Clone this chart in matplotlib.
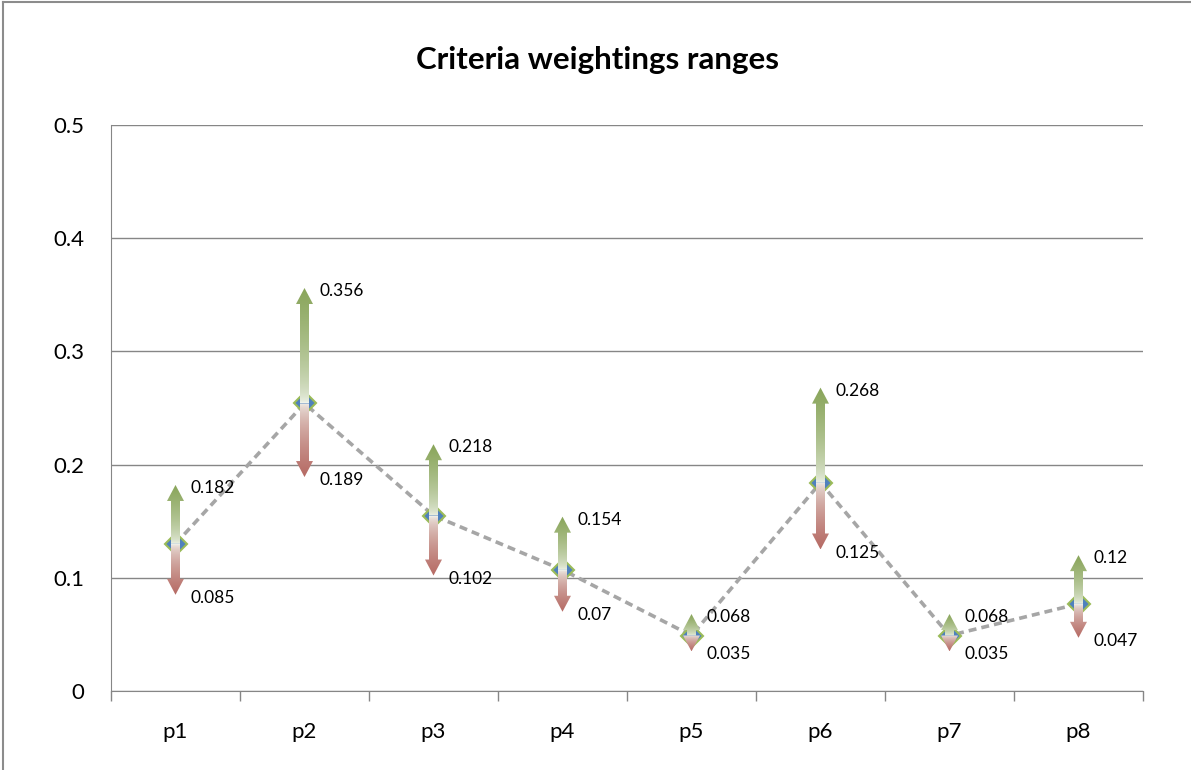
import numpy as np
import matplotlib
matplotlib.use("Agg")
import matplotlib.pyplot as plt
from matplotlib.patches import Polygon
from matplotlib.colors import to_rgb
from matplotlib.lines import Line2D

plt.rcParams['font.family'] = ['Lato', 'DejaVu Sans']

# weighting ranges per criterion
criteria = ["p1", "p2", "p3", "p4", "p5", "p6", "p7", "p8"]
w_mid = [0.130, 0.254, 0.155, 0.107, 0.049, 0.184, 0.049, 0.077]
w_max = [0.182, 0.356, 0.218, 0.154, 0.068, 0.268, 0.068, 0.12]
w_min = [0.085, 0.189, 0.102, 0.07, 0.035, 0.125, 0.035, 0.047]
y_ticks = [0, 0.1, 0.2, 0.3, 0.4, 0.5]

GRID = "#868686"
UP_COLOR = "#89a55a"
DOWN_COLOR = "#b66a64"
MID_COLOR = "#f2f5ee"

fig = plt.figure(figsize=(11.91, 7.70), dpi=100)
ax = fig.add_axes([111 / 1191, 1 - 691 / 770, 1032 / 1191, 566 / 770])

xs = np.arange(len(criteria))
ax.set_xlim(-0.5, len(criteria) - 0.5)
ax.set_ylim(0, 0.5)
ax.autoscale(False)

# pixel -> data scale factors
px_x = (ax.get_xlim()[1] - ax.get_xlim()[0]) / ax.bbox.width
px_y = (ax.get_ylim()[1] - ax.get_ylim()[0]) / ax.bbox.height


def gradient_arrow(x, y0, y1, color):
    """Arrow from y0 to y1 filled with a gradient fading to white at y0."""
    sign = 1 if y1 > y0 else -1
    shaft = 4.5 * px_x
    head = 8.5 * px_x
    head_len = min(16 * px_y, abs(y1 - y0))
    yb = y1 - sign * head_len
    verts = [(x - shaft, y0), (x - shaft, yb), (x - head, yb), (x, y1),
             (x + head, yb), (x + shaft, yb), (x + shaft, y0)]
    poly = Polygon(verts, closed=True, facecolor="none", edgecolor="none",
                   transform=ax.transData)
    ax.add_patch(poly)
    t = np.linspace(0, 1, 200) ** 0.55
    c0 = np.array(to_rgb(MID_COLOR))
    c1 = np.array(to_rgb(color))
    cols = c0[None, :] + (c1 - c0)[None, :] * t[:, None]
    img = cols[:, None, :]
    lo, hi = (y0, y1) if sign > 0 else (y1, y0)
    if sign < 0:
        img = img[::-1]
    im = ax.imshow(img[::-1], extent=[x - head, x + head, lo, hi],
                   aspect="auto", interpolation="bilinear", zorder=4)
    im.set_clip_path(poly)


# grid and axes styling
ax.set_yticks(y_ticks)
ax.set_yticklabels(["0", "0.1", "0.2", "0.3", "0.4", "0.5"])
ax.yaxis.grid(True, color=GRID, linewidth=1)
ax.set_axisbelow(True)
for side in ["top", "right"]:
    ax.spines[side].set_visible(False)
ax.spines["left"].set_color(GRID)
ax.spines["bottom"].set_color(GRID)
ax.tick_params(axis="y", length=0, pad=19, labelsize=16)
ax.set_xticks(xs)
ax.set_xticklabels(criteria)
ax.set_xticks(np.arange(-0.5, len(criteria)), minor=True)
ax.tick_params(axis="x", which="major", length=0, pad=22, labelsize=16)
ax.tick_params(axis="x", which="minor", length=7, color=GRID, width=1)

# midpoint line and markers
ax.plot(xs, w_mid, color="#a6a6a6", linewidth=2.6, linestyle=(0, (2.2, 1.4)),
        zorder=2)
ax.plot(xs, w_mid, linestyle="none", marker="D", markersize=11.5,
        markerfacecolor="#4f81bd", markeredgecolor="#9bbb59",
        markeredgewidth=1.5, zorder=3)

for x, m, hi, lo in zip(xs, w_mid, w_max, w_min):
    gradient_arrow(x, m, hi, UP_COLOR)
    gradient_arrow(x, m, lo, DOWN_COLOR)
    ax.annotate(f"{hi:g}", (x, hi), xytext=(15, -3), textcoords="offset pixels",
                va="center", ha="left", fontsize=12.5, zorder=5)
    ax.annotate(f"{lo:g}", (x, lo), xytext=(15, -3), textcoords="offset pixels",
                va="center", ha="left", fontsize=12.5, zorder=5)

fig.text(0.502, 1 - 60 / 770, "Criteria weightings ranges", ha="center",
         va="center", fontsize=22.5, fontweight="bold")

# chart border
fig.add_artist(Line2D([3 / 1191, 1], [1 - 2 / 770, 1 - 2 / 770],
                      color="#8c8c8c", linewidth=1.5, transform=fig.transFigure))
fig.add_artist(Line2D([3 / 1191, 3 / 1191], [0, 1 - 2 / 770],
                      color="#8c8c8c", linewidth=1.5, transform=fig.transFigure))

fig.savefig("out.png", dpi=100)
